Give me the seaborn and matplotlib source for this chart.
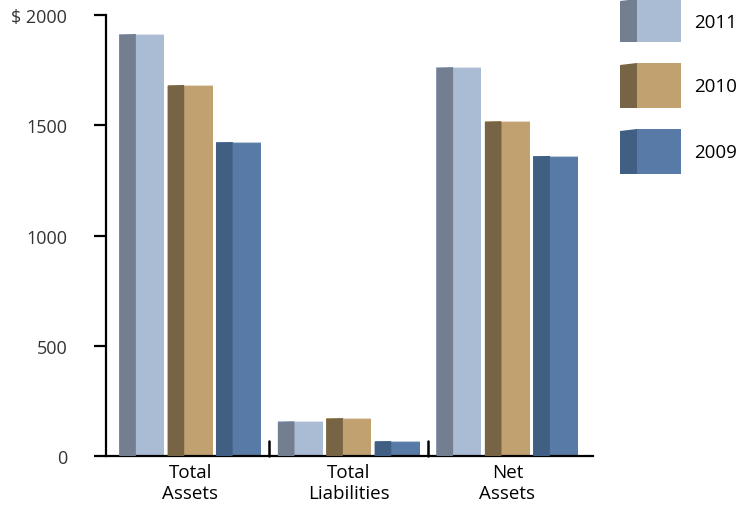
import matplotlib
matplotlib.use("Agg")
import matplotlib.pyplot as plt
from matplotlib.patches import Rectangle, Polygon
import seaborn as sns
import pandas as pd

# Balance sheet summary, in dollars (thousands)
categories = ["Total\nAssets", "Total\nLiabilities", "Net\nAssets"]
years = ["2011", "2010", "2009"]
values_2011 = [1914, 157, 1763]
values_2010 = [1683, 172, 1518]
values_2009 = [1423, 67, 1361]
y_ticks = [0, 500, 1000, 1500, 2000]
y_tick_labels = ["0", "500", "1000", "1500", "$ 2000"]

front_colors = {"2011": "#AABBD4", "2010": "#C2A171", "2009": "#577BA6"}
side_colors = {"2011": "#737F91", "2010": "#776445", "2009": "#415E83"}

rows = []
for year, vals in zip(years, [values_2011, values_2010, values_2009]):
    for cat, v in zip(categories, vals):
        rows.append({"category": cat, "year": year, "value": v})
df = pd.DataFrame(rows)

sns.set_theme(style="white")
plt.rcParams["font.family"] = ["Open Sans", "DejaVu Sans"]

fig = plt.figure(figsize=(7.45, 5.1), dpi=100)
ax = fig.add_axes([106 / 745, 1 - 457 / 510, (593 - 106) / 745, (457 - 16) / 510])

sns.barplot(data=df, x="category", y="value", hue="year", hue_order=years,
            order=categories, palette=front_colors, width=0.915, gap=0.07,
            saturation=1, errorbar=None, legend=False, ax=ax, linewidth=0)

# Shade the left part of every bar as a side face for a boxy look
n = len(categories)
for i, patch in enumerate(ax.patches[: n * len(years)]):
    year = years[i // n]
    x0, w, h = patch.get_x(), patch.get_width(), patch.get_height()
    sw = w * 0.37
    side = Polygon([(x0, 0), (x0, h - 4), (x0 + sw, h), (x0 + sw, 0)],
                   closed=True, facecolor=side_colors[year], edgecolor="none", zorder=3)
    ax.add_patch(side)
    # thin light highlight along the top edge
    ax.plot([x0 + sw, x0 + w], [h, h], color="white", lw=0.8, alpha=0.6, zorder=4)

ax.set_xlim(-0.53, 2.54)
ax.set_ylim(0, 2000)
ax.set_yticks(y_ticks)
ax.set_yticklabels(y_tick_labels, fontsize=13, color="#333333")
ax.set_xlabel("")
ax.set_ylabel("")
ax.tick_params(axis="x", length=0, labelsize=13.5, pad=5, labelcolor="black")
ax.tick_params(axis="y", length=9, width=1.6, direction="out", color="black", left=True, pad=19)
for lab in ax.get_xticklabels():
    lab.set_linespacing(1.25)

for side_name in ["top", "right"]:
    ax.spines[side_name].set_visible(False)
for side_name in ["left", "bottom"]:
    ax.spines[side_name].set_color("black")
    ax.spines[side_name].set_linewidth(1.6)

# Short upward separators between the category groups
for xs in [0.5, 1.5]:
    ax.axvline(xs, ymin=0, ymax=0.034, color="black", lw=1.8, clip_on=False)

# Legend: boxy swatches at top right
legend_boxes = [(0, 43), (64, 109), (130, 175)]
for year, (yt, yb) in zip(years, legend_boxes):
    x_l, x_s, x_r = 620, 637, 681
    fy = lambda py: 1 - py / 510
    fig.add_artist(Rectangle((x_s / 745, fy(yb)), (x_r - x_s) / 745, (yb - yt) / 510,
                             transform=fig.transFigure, facecolor=front_colors[year],
                             edgecolor="none"))
    fig.add_artist(Polygon([(x_l / 745, fy(yb)), (x_l / 745, fy(yt + 2)),
                            (x_s / 745, fy(yt)), (x_s / 745, fy(yb))],
                           closed=True, transform=fig.transFigure,
                           facecolor=side_colors[year], edgecolor="none"))
    fig.text(694 / 745, fy((yt + yb) / 2 + 1), year, fontsize=13.5, va="center",
             ha="left", color="black")

fig.savefig("out.png", dpi=100)
